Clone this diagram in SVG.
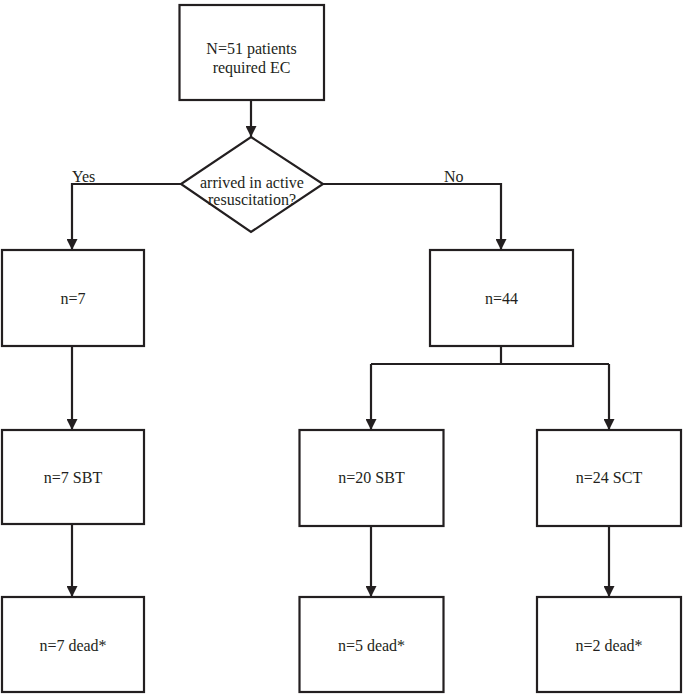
<svg xmlns="http://www.w3.org/2000/svg" width="685" height="694" viewBox="0 0 685 694">
<defs>
<style>
.box{fill:#fff;stroke:#231f20;stroke-width:2.2}
.t{font-family:"Liberation Serif","Times New Roman",serif;font-size:16px;fill:#231f20;text-anchor:middle}
.l{font-family:"Liberation Serif","Times New Roman",serif;font-size:16px;fill:#231f20}
.c{fill:none;stroke:#231f20;stroke-width:2.2}
</style>
<marker id="ah" markerUnits="userSpaceOnUse" viewBox="0 0 10 10" refX="10" refY="5" markerWidth="11" markerHeight="11" orient="auto">
<path d="M0,0 L10,5 L0,10 z" fill="#231f20"/>
</marker>
</defs>
<rect width="685" height="694" fill="#fff"/>
<g id="connectors">
<path class="c" d="M251,100 V137" marker-end="url(#ah)"/>
<path class="c" d="M181,184 H72 V250" marker-end="url(#ah)"/>
<path class="c" d="M323,184 H501 V250" marker-end="url(#ah)"/>
<path class="c" d="M72,346 V430" marker-end="url(#ah)"/>
<path class="c" d="M501,346 V364"/>
<path class="c" d="M371,364 H609"/>
<path class="c" d="M371,364 V430" marker-end="url(#ah)"/>
<path class="c" d="M609,364 V430" marker-end="url(#ah)"/>
<path class="c" d="M72,524 V597" marker-end="url(#ah)"/>
<path class="c" d="M371,526 V597" marker-end="url(#ah)"/>
<path class="c" d="M609,526 V597" marker-end="url(#ah)"/>
<text class="l" x="72" y="182">Yes</text>
<text class="l" x="444" y="182">No</text>
</g>
<g id="start">
<rect class="box" x="179.5" y="5" width="144.5" height="95"/>
<text class="t" x="251.5" y="54">N=51 patients</text>
<text class="t" x="251.5" y="73">required EC</text>
</g>
<g id="decision">
<polygon class="box" points="251,137 323,184 251,232 181,184"/>
<text class="t" x="252" y="188">arrived in active</text>
<text class="t" x="252" y="205">resuscitation?</text>
</g>
<g id="n7">
<rect class="box" x="2" y="250" width="142" height="96"/>
<text class="t" x="73" y="304">n=7</text>
</g>
<g id="n44">
<rect class="box" x="430" y="250" width="143" height="96"/>
<text class="t" x="501.5" y="304">n=44</text>
</g>
<g id="n7sbt">
<rect class="box" x="2" y="430" width="142" height="94"/>
<text class="t" x="73" y="483">n=7 SBT</text>
</g>
<g id="n20sbt">
<rect class="box" x="299.5" y="430" width="144" height="96"/>
<text class="t" x="371.5" y="483">n=20 SBT</text>
</g>
<g id="n24sct">
<rect class="box" x="537" y="430" width="144" height="96"/>
<text class="t" x="609" y="483">n=24 SCT</text>
</g>
<g id="n7dead">
<rect class="box" x="2" y="597" width="142" height="95"/>
<text class="t" x="73" y="651">n=7 dead*</text>
</g>
<g id="n5dead">
<rect class="box" x="299.5" y="597" width="144" height="95"/>
<text class="t" x="371.5" y="651">n=5 dead*</text>
</g>
<g id="n2dead">
<rect class="box" x="537" y="597" width="144" height="95"/>
<text class="t" x="609" y="651">n=2 dead*</text>
</g>
</svg>
